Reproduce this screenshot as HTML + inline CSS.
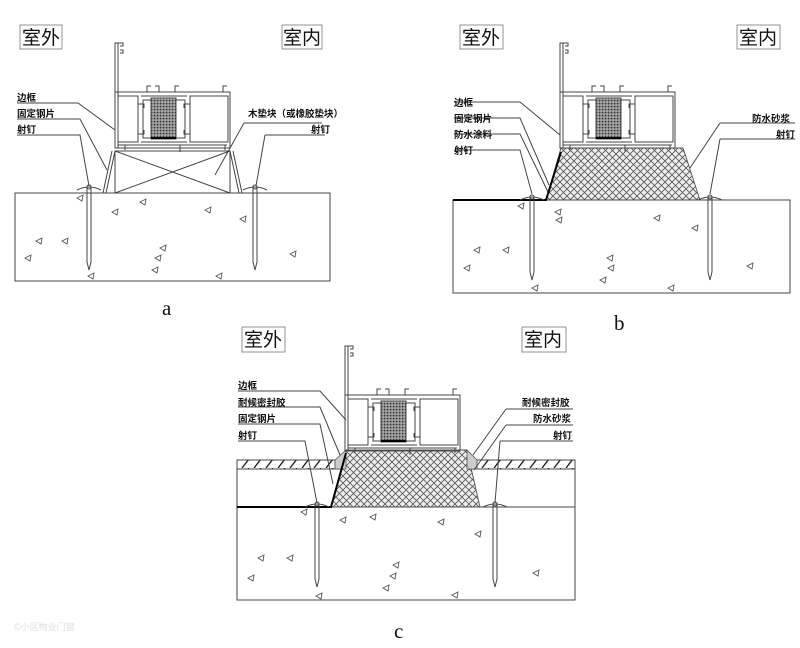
<!DOCTYPE html>
<html><head><meta charset="utf-8"><style>
html,body{margin:0;padding:0;background:#fff;}
svg{display:block}
text{font-family:"Liberation Sans","Noto Sans CJK SC",sans-serif;}
.lb{font-size:9.5px;font-weight:bold;fill:#111;font-family:"Noto Sans CJK SC",sans-serif;}
.tt{font-size:19px;fill:#111;font-family:"Noto Sans CJK SC",sans-serif;}
.ll{font-size:21px;fill:#111;font-family:"Liberation Serif",serif;}
</style></head><body>
<svg width="800" height="648" viewBox="0 0 800 648" xmlns="http://www.w3.org/2000/svg">
<defs>
<pattern id="xh" width="7" height="7" patternUnits="userSpaceOnUse">
<rect width="7" height="7" fill="#eee"/>
<path d="M0 0L7 7M7 0L0 7" stroke="#555" stroke-width="0.8"/>
</pattern>
<pattern id="st" width="3" height="3" patternUnits="userSpaceOnUse">
<rect width="3" height="3" fill="#888"/>
<rect x="0" y="0" width="1.2" height="1.2" fill="#333"/>
<rect x="1.5" y="1.5" width="1.2" height="1.2" fill="#ccc"/>
</pattern>
<pattern id="dh" width="12" height="9" patternUnits="userSpaceOnUse">
<rect width="12" height="9" fill="#fff"/>
<path d="M2 9L9 0" stroke="#222" stroke-width="1.4"/>
</pattern>
<g id="win" fill="none" stroke="#444" stroke-width="1">
<path d="M0 -45 L0 60 L3 60 L3 -45 Z M3 -45 L8 -45 L8 -42 L5 -42 M5 -38 L8 -38 L8 -35 L5 -35"/>
<rect x="0" y="4" width="115" height="56"/>
<rect x="3" y="8" width="20" height="46"/>
<rect x="75" y="8" width="38" height="46"/>
<path d="M26 8 L72 8 M26 54 L72 54 M28 12 L70 12 L70 50 L28 50 Z"/>
<path d="M32 4 L32 -2 L36 -2 M44 4 L44 -2 L40 -2 M60 4 L60 -2 L64 -2 M108 4 L108 -2 L112 -2"/>
<path d="M3 57 L112 57 M10 57 L10 62 M65 57 L65 64 M110 57 L110 62"/>
<path d="M23 16 L29 16 L29 20 M23 46 L29 46 L29 42 M75 16 L69 16 L69 20 M75 46 L69 46 L69 42"/>
<rect x="36" y="10" width="25" height="41" fill="url(#st)" stroke="#444"/>
<path d="M36 50 L61 50" stroke="#000" stroke-width="2"/>
</g>
<g id="nail" fill="none" stroke="#444" stroke-width="1">
<path d="M-12 0 Q0 -6 12 0 M-2 -4 L-2 72 L0 80 L2 72 L2 -4"/>
<circle cx="0" cy="-3" r="2"/>
</g>
<g id="tri" fill="none" stroke="#555" stroke-width="0.9">
<path d="M0 0 L6 -3 L5 3 Z"/>
</g>
</defs>
<rect width="800" height="648" fill="#fff"/>

<!-- Panel a -->
<rect x="20" y="25" width="42" height="24" fill="#fff" stroke="#888" stroke-width="0.9"/>
<text class="tt" x="22" y="44">室外</text>
<rect x="282" y="25" width="40" height="24" fill="#fff" stroke="#888" stroke-width="0.9"/>
<text class="tt" x="283" y="44">室内</text>
<use href="#win" transform="translate(115,88)"/>
<g fill="none" stroke="#444" stroke-width="1">
<rect x="115" y="151" width="115" height="42"/>
<path d="M115 151 L230 193 M230 151 L115 193"/>
<path d="M115 151 L106 193 M112 151 L103 193 M230 151 L239 193 M233 151 L242 193"/>
<rect x="15" y="193" width="315" height="88"/>
<path d="M17 103 L78 103 L115 130 M17 119 L80 119 L107 170 M17 135 L80 135 L89 186"/>
<path d="M244 123 L322 123 M244 123 L215 175 M265 135 L325 135 M265 135 L256 186"/>
</g>
<use href="#nail" transform="translate(89,190)"/>
<use href="#nail" transform="translate(255,190)"/>
<g>
<use href="#tri" transform="translate(77,198)"/><use href="#tri" transform="translate(140,202)"/><use href="#tri" transform="translate(112,212)"/>
<use href="#tri" transform="translate(205,210)"/><use href="#tri" transform="translate(240,219)"/><use href="#tri" transform="translate(36,241)"/>
<use href="#tri" transform="translate(62,241)"/><use href="#tri" transform="translate(160,248)"/><use href="#tri" transform="translate(155,258)"/>
<use href="#tri" transform="translate(25,258)"/><use href="#tri" transform="translate(152,270)"/><use href="#tri" transform="translate(216,276)"/>
<use href="#tri" transform="translate(290,254)"/><use href="#tri" transform="translate(88,276)"/>
</g>
<text class="lb" x="17" y="101">边框</text>
<text class="lb" x="17" y="117">固定钢片</text>
<text class="lb" x="17" y="133">射钉</text>
<text class="lb" x="248" y="117">木垫块（或橡胶垫块）</text>
<text class="lb" x="311" y="133">射钉</text>
<text class="ll" x="162" y="315">a</text>

<!-- Panel b -->
<rect x="460" y="25" width="43" height="24" fill="#fff" stroke="#888" stroke-width="0.9"/>
<text class="tt" x="462" y="44">室外</text>
<rect x="737" y="25" width="43" height="24" fill="#fff" stroke="#888" stroke-width="0.9"/>
<text class="tt" x="739" y="44">室内</text>
<path d="M561 148 L683 148 L700 200 L546 200 Z" fill="url(#xh)" stroke="#555" stroke-width="0.9"/>
<use href="#win" transform="translate(560,88)"/>
<g fill="none" stroke="#444" stroke-width="1">
<rect x="453" y="200" width="337" height="93"/>
<path d="M454 102 L520 102 L560 135 M454 118 L520 118 L549 185 M454 134 L520 134 L548 192 M454 150 L520 150 L532 194"/>
<path d="M720 123 L795 123 M720 123 L690 168 M720 139 L795 139 M720 139 L710 194"/>
</g>
<path d="M453 200 L546 200 L561 152" fill="none" stroke="#000" stroke-width="2"/>
<use href="#nail" transform="translate(532,200)"/>
<use href="#nail" transform="translate(710,200)"/>
<g>
<use href="#tri" transform="translate(518,206)"/><use href="#tri" transform="translate(555,212)"/><use href="#tri" transform="translate(556,220)"/>
<use href="#tri" transform="translate(654,218)"/><use href="#tri" transform="translate(692,228)"/><use href="#tri" transform="translate(474,250)"/>
<use href="#tri" transform="translate(503,250)"/><use href="#tri" transform="translate(607,258)"/><use href="#tri" transform="translate(608,268)"/>
<use href="#tri" transform="translate(464,268)"/><use href="#tri" transform="translate(600,280)"/><use href="#tri" transform="translate(668,288)"/>
<use href="#tri" transform="translate(747,266)"/><use href="#tri" transform="translate(532,288)"/>
</g>
<text class="lb" x="454" y="106">边框</text>
<text class="lb" x="454" y="122">固定钢片</text>
<text class="lb" x="454" y="138">防水涂料</text>
<text class="lb" x="454" y="154">射钉</text>
<text class="lb" x="752" y="122">防水砂浆</text>
<text class="lb" x="776" y="138">射钉</text>
<text class="ll" x="614" y="330">b</text>

<!-- Panel c -->
<rect x="242" y="327" width="43" height="25" fill="#fff" stroke="#888" stroke-width="0.9"/>
<text class="tt" x="244" y="346">室外</text>
<rect x="522" y="327" width="44" height="25" fill="#fff" stroke="#888" stroke-width="0.9"/>
<text class="tt" x="524" y="346">室内</text>
<rect x="237" y="460" width="98" height="9" fill="url(#dh)" stroke="#333" stroke-width="0.9"/>
<rect x="477" y="460" width="98" height="9" fill="url(#dh)" stroke="#333" stroke-width="0.9"/>
<path d="M237 469 L575 469" stroke="#444" stroke-width="0.9"/>
<path d="M346 450 L467 450 L480 507 L331 507 Z" fill="url(#xh)" stroke="#555" stroke-width="0.9"/>
<path d="M335 460 L346 450 L346 469 L335 469 Z M477 460 L467 450 L467 469 L477 469 Z" fill="#ccc" stroke="#555" stroke-width="0.8"/>
<use href="#win" transform="translate(345,391)"/>
<g fill="none" stroke="#444" stroke-width="1">
<rect x="237" y="507" width="338" height="93"/>
<path d="M237 469 L237 507 M575 469 L575 507"/>
<path d="M238 391 L320 391 L346 420 M238 407 L320 407 L340 455 M238 424 L320 424 L333 484 M238 441 L305 441 L317 503"/>
<path d="M506 409 L573 409 M506 409 L473 455 M506 425 L573 425 M506 425 L474 470 M500 441 L573 441 M500 441 L495 503"/>
</g>
<path d="M237 507 L331 507 L346 453" fill="none" stroke="#000" stroke-width="2"/>
<use href="#nail" transform="translate(317,507)"/>
<use href="#nail" transform="translate(495,507)"/>
<g>
<use href="#tri" transform="translate(301,512)"/><use href="#tri" transform="translate(340,520)"/><use href="#tri" transform="translate(370,517)"/>
<use href="#tri" transform="translate(438,522)"/><use href="#tri" transform="translate(475,534)"/><use href="#tri" transform="translate(258,558)"/>
<use href="#tri" transform="translate(287,558)"/><use href="#tri" transform="translate(393,565)"/><use href="#tri" transform="translate(390,576)"/>
<use href="#tri" transform="translate(248,578)"/><use href="#tri" transform="translate(383,588)"/><use href="#tri" transform="translate(452,595)"/>
<use href="#tri" transform="translate(533,573)"/><use href="#tri" transform="translate(316,596)"/>
</g>
<text class="lb" x="238" y="389">边框</text>
<text class="lb" x="238" y="406">耐候密封胶</text>
<text class="lb" x="238" y="422">固定钢片</text>
<text class="lb" x="238" y="439">射钉</text>
<text class="lb" x="522" y="406">耐候密封胶</text>
<text class="lb" x="533" y="422">防水砂浆</text>
<text class="lb" x="553" y="439">射钉</text>
<text class="ll" x="394" y="638">c</text>

<text x="14" y="630" font-size="9" fill="#ddd">©小区物业门窗</text>
</svg>
</body></html>
